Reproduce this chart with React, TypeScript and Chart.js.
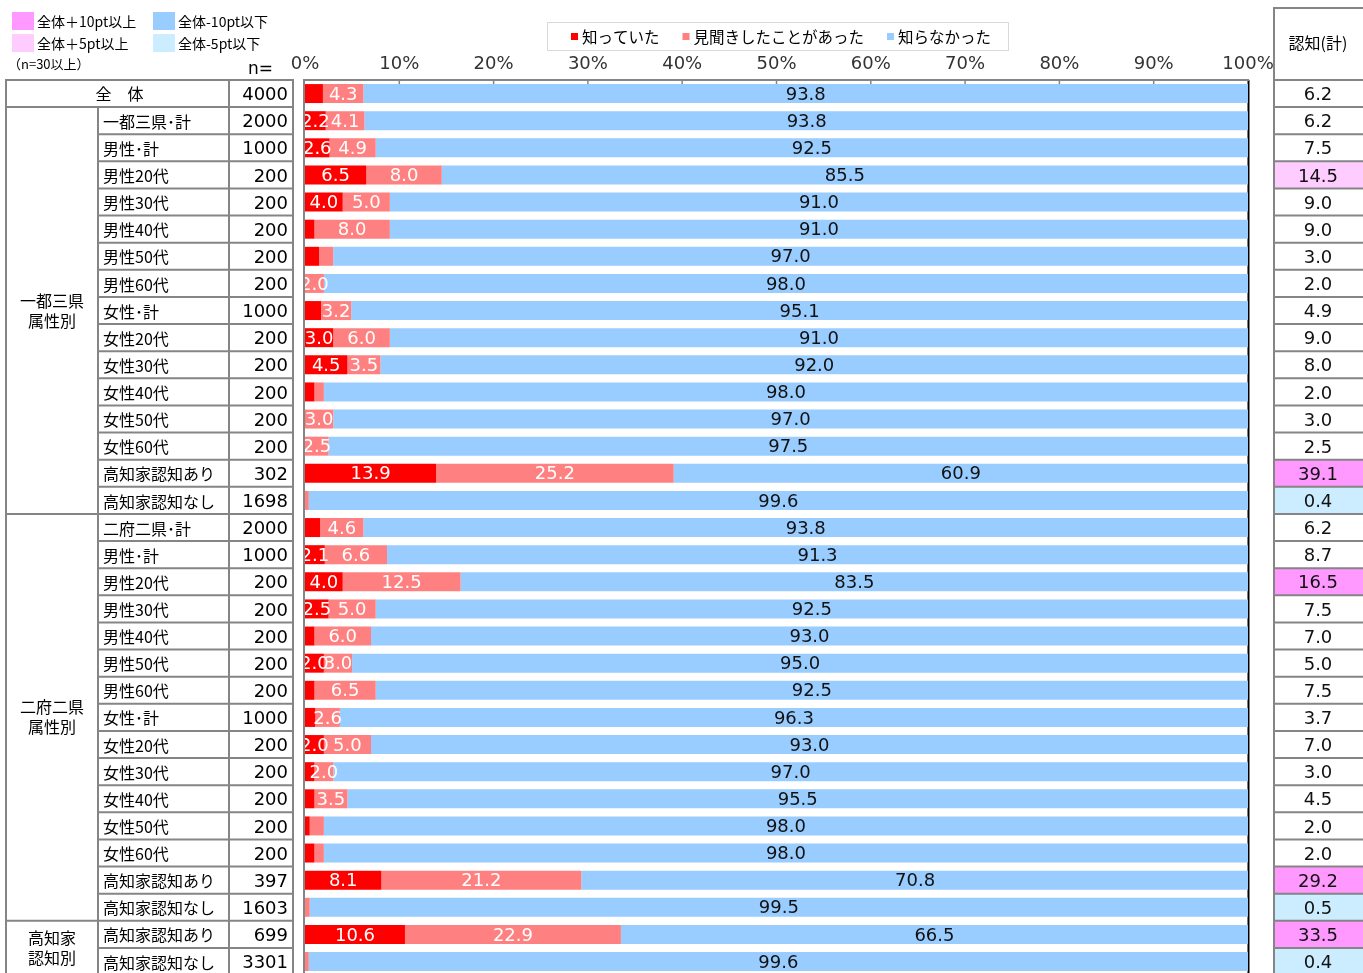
import { useEffect, useRef } from "react";
import { Chart, registerables } from "chart.js";

Chart.register(...registerables);

// ---------------- data ----------------
const categories = [
  "全　体",
  "一都三県･計", "男性･計", "男性20代", "男性30代", "男性40代", "男性50代", "男性60代",
  "女性･計", "女性20代", "女性30代", "女性40代", "女性50代", "女性60代",
  "高知家認知あり", "高知家認知なし",
  "二府二県･計", "男性･計", "男性20代", "男性30代", "男性40代", "男性50代", "男性60代",
  "女性･計", "女性20代", "女性30代", "女性40代", "女性50代", "女性60代",
  "高知家認知あり", "高知家認知なし",
  "高知家認知あり", "高知家認知なし",
];

const sampleSizes = [
  4000,
  2000, 1000, 200, 200, 200, 200, 200, 1000, 200, 200, 200, 200, 200, 302, 1698,
  2000, 1000, 200, 200, 200, 200, 200, 1000, 200, 200, 200, 200, 200, 397, 1603,
  699, 3301,
];

const knewValues = [
  1.9,
  2.2, 2.6, 6.5, 4.0, 1.0, 1.5, 0, 1.7, 3.0, 4.5, 1.0, 0, 0, 13.9, 0,
  1.6, 2.1, 4.0, 2.5, 1.0, 2.0, 1.0, 1.1, 2.0, 1.0, 1.0, 0.5, 1.0, 8.1, 0,
  10.6, 0,
];

const heardValues = [
  4.3,
  4.1, 4.9, 8.0, 5.0, 8.0, 1.5, 2.0, 3.2, 6.0, 3.5, 1.0, 3.0, 2.5, 25.2, 0.4,
  4.6, 6.6, 12.5, 5.0, 6.0, 3.0, 6.5, 2.6, 5.0, 2.0, 3.5, 1.5, 1.0, 21.2, 0.5,
  22.9, 0.4,
];

const unknownValues = [
  93.8,
  93.8, 92.5, 85.5, 91.0, 91.0, 97.0, 98.0, 95.1, 91.0, 92.0, 98.0, 97.0, 97.5, 60.9, 99.6,
  93.8, 91.3, 83.5, 92.5, 93.0, 95.0, 92.5, 96.3, 93.0, 97.0, 95.5, 98.0, 98.0, 70.8, 99.5,
  66.5, 99.6,
];

const awarenessTotals = [
  6.2,
  6.2, 7.5, 14.5, 9.0, 9.0, 3.0, 2.0, 4.9, 9.0, 8.0, 2.0, 3.0, 2.5, 39.1, 0.4,
  6.2, 8.7, 16.5, 7.5, 7.0, 5.0, 7.5, 3.7, 7.0, 3.0, 4.5, 2.0, 2.0, 29.2, 0.5,
  33.5, 0.4,
];

const seriesNames = ["知っていた", "見聞きしたことがあった", "知らなかった"];

const tickValues = [0, 10, 20, 30, 40, 50, 60, 70, 80, 90, 100];
const tickLabels = ["0%", "10%", "20%", "30%", "40%", "50%", "60%", "70%", "80%", "90%", "100%"];

const groupLabels = [["一都三県", "属性別"], ["二府二県", "属性別"], ["高知家", "認知別"]];
const groupFirstRow = [1, 16, 31];
const groupLastRow = [15, 30, 32];

const highlightNames = ["全体＋10pt以上", "全体-10pt以下", "全体＋5pt以上", "全体-5pt以下"];

// ---------------- styles ----------------
const JP = '"Noto Sans CJK JP", sans-serif';
const NUM = '"DejaVu Sans", "Noto Sans CJK JP", sans-serif';
const GRID = "#858585";
const C_RED = "#FF0000";
const C_PINK = "#FF8080";
const C_BLUE = "#99CCFF";
const HL_P10 = "#FF99FF";
const HL_P5 = "#FFCCFF";
const HL_M10 = "#99CCFF";
const HL_M5 = "#CCECFF";

function highlightColor(v: number, base: number, n: number): string | null {
  if (n < 30) return null;
  const d = v - base;
  if (d >= 10) return HL_P10;
  if (d >= 5) return HL_P5;
  if (d <= -10) return HL_M10;
  if (d <= -5) return HL_M5;
  return null;
}

function line(ctx: CanvasRenderingContext2D, x1: number, y1: number, x2: number, y2: number) {
  ctx.beginPath();
  ctx.moveTo(x1, y1);
  ctx.lineTo(x2, y2);
  ctx.stroke();
}

const tablePlugin = {
  id: "tablePlugin",
  beforeDatasetsDraw(chart: any) {
    const { ctx, chartArea } = chart;
    const x = chart.scales.x.getPixelForValue(100);
    ctx.save();
    ctx.strokeStyle = "#000";
    ctx.lineWidth = 2;
    line(ctx, x + 0.5, chartArea.top, x + 0.5, chartArea.bottom);
    ctx.restore();
  },
  afterDatasetsDraw(chart: any) {
    const { ctx } = chart;
    ctx.save();
    ctx.font = `18px ${NUM}`;
    ctx.textAlign = "center";
    ctx.textBaseline = "middle";
    chart.data.datasets.forEach((ds: any, di: number) => {
      const meta = chart.getDatasetMeta(di);
      meta.data.forEach((el: any, i: number) => {
        const v = ds.data[i] as number;
        if (di < 2 && v < 2) return;
        const p = el.getProps(["x", "base", "y"], true);
        ctx.fillStyle = di < 2 ? "#ffffff" : "#111111";
        ctx.fillText(v.toFixed(1), (p.x + p.base) / 2, p.y + 1.5);
      });
    });
    ctx.restore();
  },
  afterDraw(chart: any) {
    const { ctx, chartArea } = chart;
    const xs = chart.scales.x;
    const ys = chart.scales.y;
    const n = categories.length;
    const rowH = (chartArea.bottom - chartArea.top) / n;
    const rowTop = (i: number) => ys.getPixelForValue(i) - rowH / 2;
    const rowMid = (i: number) => ys.getPixelForValue(i);
    const bottom = chartArea.bottom;

    ctx.save();

    // ---- axes ----
    const x0 = xs.getPixelForValue(0);
    const x100 = xs.getPixelForValue(100);
    ctx.strokeStyle = GRID;
    ctx.lineWidth = 2;
    line(ctx, x0 - 2, chartArea.top, x100 + 1, chartArea.top);
    line(ctx, x0 - 1, chartArea.top, x0 - 1, bottom);
    ctx.lineWidth = 1.5;
    tickValues.forEach((v) => {
      const x = xs.getPixelForValue(v);
      if (v > 0 && v < 100) line(ctx, x, chartArea.top, x, chartArea.top + 4);
    });
    ctx.fillStyle = "#333";
    ctx.font = `18px ${NUM}`;
    ctx.textAlign = "center";
    ctx.textBaseline = "middle";
    tickValues.forEach((v, i) => {
      ctx.fillText(tickLabels[i], xs.getPixelForValue(v), 64);
    });

    // ---- left table ----
    const L0 = 6, L1 = 98, L2 = 229, L3 = 293;
    ctx.strokeStyle = GRID;
    ctx.lineWidth = 2;
    for (let i = 0; i < n; i++) {
      const y = rowTop(i);
      const isGroupStart = i === 0 || groupFirstRow.includes(i);
      line(ctx, isGroupStart ? L0 - 1 : L1, y, L3 + 1, y);
    }
    line(ctx, L0, chartArea.top, L0, bottom);
    line(ctx, L1, rowTop(1), L1, bottom);
    line(ctx, L2, chartArea.top, L2, bottom);
    line(ctx, L3, chartArea.top, L3, bottom);

    ctx.fillStyle = "#000";
    ctx.textBaseline = "middle";
    for (let i = 0; i < n; i++) {
      const y = rowMid(i);
      ctx.font = `16px ${JP}`;
      if (i === 0) {
        ctx.textAlign = "center";
        ctx.fillText(categories[i], (L0 + L2) / 2 + 2, y);
      } else {
        ctx.textAlign = "left";
        ctx.fillText(categories[i], L1 + 5, y + 1);
      }
      ctx.font = `18px ${NUM}`;
      ctx.textAlign = "right";
      ctx.fillText(String(sampleSizes[i]), L3 - 5, y + 2);
    }
    ctx.font = `16px ${JP}`;
    ctx.textAlign = "center";
    groupLabels.forEach((lbl, g) => {
      const cy = (rowMid(groupFirstRow[g]) + rowMid(groupLastRow[g])) / 2;
      ctx.fillText(lbl[0], (L0 + L1) / 2, cy - 10);
      ctx.fillText(lbl[1], (L0 + L1) / 2, cy + 10);
    });

    ctx.font = `17px ${NUM}`;
    ctx.textAlign = "left";
    ctx.fillText("n=", 248, 70);
    ctx.font = `13px ${JP}`;
    ctx.fillText("（n=30以上）", 8, 64);

    // highlight legend
    const hlColors = [HL_P10, HL_M10, HL_P5, HL_M5];
    const hlX = [12, 153];
    const hlY = [12, 34];
    ctx.font = `14px ${JP}`;
    highlightNames.forEach((name, k) => {
      const bx = hlX[k % 2];
      const by = hlY[Math.floor(k / 2)];
      ctx.fillStyle = hlColors[k];
      ctx.fillRect(bx, by, 22, 18);
      ctx.fillStyle = "#000";
      ctx.textAlign = "left";
      ctx.fillText(name, bx + 25, by + 9.5);
    });

    // ---- right column ----
    const R0 = 1274;
    const RW = 1363 - R0;
    const rc = R0 + 44;
    for (let i = 0; i < n; i++) {
      const col = highlightColor(awarenessTotals[i], awarenessTotals[0], sampleSizes[i]);
      if (col) {
        ctx.fillStyle = col;
        ctx.fillRect(R0, rowTop(i), RW + 2, rowH);
      }
    }
    ctx.strokeStyle = GRID;
    ctx.lineWidth = 2;
    line(ctx, R0 - 1, 8, 1363, 8);
    for (let i = 0; i < n; i++) line(ctx, R0 - 1, rowTop(i), 1363, rowTop(i));
    line(ctx, R0, 7, R0, bottom);
    ctx.fillStyle = "#000";
    ctx.textAlign = "center";
    ctx.font = `16px ${JP}`;
    ctx.fillText("認知(計)", rc, 43);
    ctx.font = `18px ${NUM}`;
    for (let i = 0; i < n; i++) {
      ctx.fillStyle = "#111";
      ctx.fillText(awarenessTotals[i].toFixed(1), rc, rowMid(i) + 2);
    }

    // ---- series legend ----
    const lx0 = 547, ly0 = 22, lx1 = 1008, ly1 = 50;
    ctx.strokeStyle = "#d9d9d9";
    ctx.lineWidth = 1;
    ctx.strokeRect(lx0 + 0.5, ly0 + 0.5, lx1 - lx0, ly1 - ly0);
    ctx.font = `15.5px ${JP}`;
    ctx.textAlign = "left";
    let lx = 571;
    chart.data.datasets.forEach((ds: any) => {
      ctx.fillStyle = ds.backgroundColor;
      ctx.fillRect(lx, 33, 7, 7);
      ctx.fillStyle = "#000";
      ctx.fillText(ds.label, lx + 11, 37);
      lx += 11 + ctx.measureText(ds.label).width + 23;
    });

    ctx.restore();
  },
};

export default function App() {
  const canvasRef = useRef<HTMLCanvasElement | null>(null);

  useEffect(() => {
    document.body.style.margin = "0";
    const canvas = canvasRef.current;
    if (!canvas) return;
    const chart = new Chart(canvas, {
      type: "bar",
      data: {
        labels: categories,
        datasets: [
          { label: seriesNames[0], data: knewValues, backgroundColor: C_RED },
          { label: seriesNames[1], data: heardValues, backgroundColor: C_PINK },
          { label: seriesNames[2], data: unknownValues, backgroundColor: C_BLUE },
        ].map((d) => ({ ...d, borderWidth: 0, barPercentage: 0.7, categoryPercentage: 1.0 })),
      },
      options: {
        indexAxis: "y",
        responsive: false,
        maintainAspectRatio: false,
        animation: false,
        devicePixelRatio: 1,
        layout: { padding: { left: 305, right: 115, top: 80, bottom: 0.9 } },
        scales: {
          x: { type: "linear", min: 0, max: 100, stacked: true, display: false },
          y: { type: "category", stacked: true, display: false },
        },
        plugins: {
          legend: { display: false },
          tooltip: { enabled: false },
          title: { display: false },
        },
      },
      plugins: [tablePlugin],
    } as any);
    return () => chart.destroy();
  }, []);

  return (
    <div
      style={{
        position: "fixed",
        left: 0,
        top: 0,
        width: 1363,
        height: 973,
        overflow: "hidden",
        background: "#fff",
      }}
    >
      <canvas ref={canvasRef} width={1363} height={976} style={{ display: "block" }} />
    </div>
  );
}
